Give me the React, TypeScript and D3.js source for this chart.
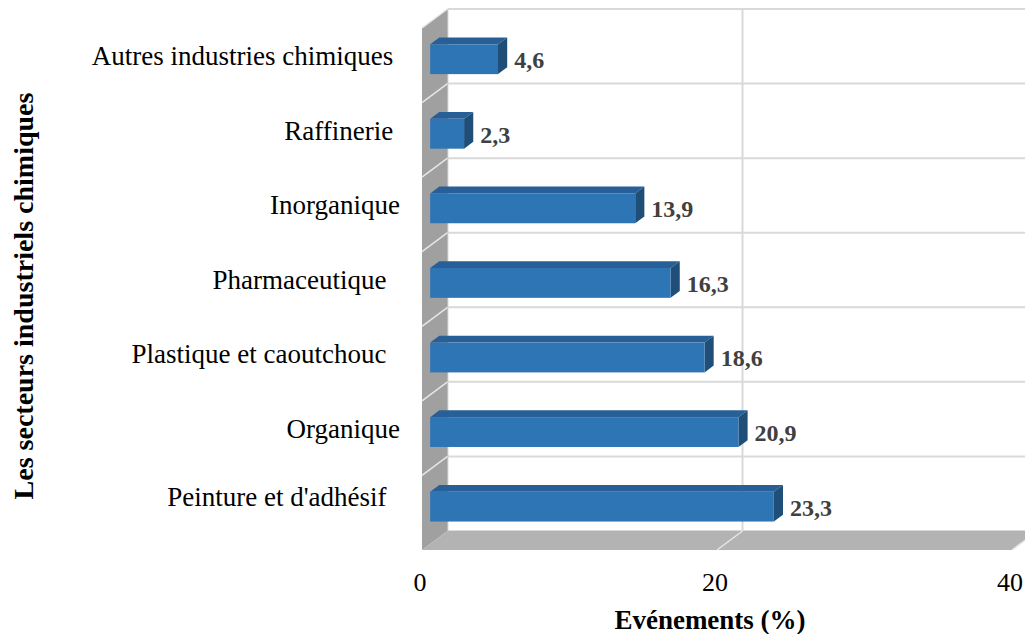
import React, { useRef, useEffect } from 'react'
import * as d3 from 'd3'

// categories from top to bottom, as in the reference
const categories = [
  'Autres industries chimiques ',
  'Raffinerie ',
  'Inorganique',
  'Pharmaceutique  ',
  'Plastique et caoutchouc  ',
  'Organique',
  "Peinture et d'adhésif  ",
]
const values = [4.6, 2.3, 13.9, 16.3, 18.6, 20.9, 23.3]
const xTicks = [0, 20, 40]

const xTitle = 'Evénements (%)'
const yTitle = 'Les secteurs industriels chimiques'

export default function App() {
  const svgRef = useRef<SVGSVGElement>(null)

  useEffect(() => {
    if (!svgRef.current) return
    const svg = d3.select(svgRef.current)
    svg.selectAll('*').remove()

    const font = '"Liberation Serif", "Times New Roman", serif'
    const width = 1025
    const height = 634

    // front plane of the 3D box
    const x = d3.scaleLinear().domain([0, 40]).range([422, 1012])
    // depth offset of the back plane
    const DX = 25.5
    const DY = 19
    // bands measured on the back wall
    const y = d3.scaleBand<string>().domain(categories).range([9, 531])
    const bw = y.bandwidth()

    const gridColor = '#d9d9d9'

    // back wall gridlines
    const back = svg.append('g')
    const bounds = d3.range(categories.length + 1).map(i => 9 + i * bw)
    back.selectAll('line.h')
      .data(bounds)
      .enter().append('line')
      .attr('x1', x(0) + DX).attr('x2', x(40) + DX)
      .attr('y1', d => d).attr('y2', d => d)
      .attr('stroke', gridColor).attr('stroke-width', 2)
    back.selectAll('line.v')
      .data(xTicks)
      .enter().append('line')
      .attr('x1', d => x(d) + DX).attr('x2', d => x(d) + DX)
      .attr('y1', 9).attr('y2', 531)
      .attr('stroke', gridColor).attr('stroke-width', 2)

    // left wall
    const x0 = x(0)
    svg.append('polygon')
      .attr('points', [[x0, 9 + DY], [x0 + DX, 9], [x0 + DX, 531], [x0, 531 + DY]].map(p => p.join(',')).join(' '))
      .attr('fill', '#a0a0a0')
    svg.append('g').selectAll('line')
      .data(bounds.slice(0, -1))
      .enter().append('line')
      .attr('x1', x0).attr('y1', d => d + DY)
      .attr('x2', x0 + DX).attr('y2', d => d)
      .attr('stroke', '#e6e6e6').attr('stroke-width', 1.5)

    // floor
    svg.append('polygon')
      .attr('points', [[x0, 531 + DY], [x(40), 531 + DY], [x(40) + DX, 531], [x0 + DX, 531]].map(p => p.join(',')).join(' '))
      .attr('fill', '#b3b3b3')
    svg.append('g').selectAll('line')
      .data(xTicks.slice(1))
      .enter().append('line')
      .attr('x1', d => x(d)).attr('y1', 531 + DY)
      .attr('x2', d => x(d) + DX).attr('y2', 531)
      .attr('stroke', '#e6e6e6').attr('stroke-width', 1.5)

    // bars
    const d1 = 0.32
    const d2 = 0.68
    const barH = bw * 0.4
    const ddx = (d2 - d1) * DX
    const ddy = (d2 - d1) * DY
    const bars = categories.map((c, i) => {
      const cy = (y(c) as number) + bw / 2 + DY * (1 - d1)
      const xl = x(0) + DX * d1
      const xr = x(values[i]) + DX * d1
      return { c, v: values[i], cy, xl, xr, yt: cy - barH / 2, yb: cy + barH / 2, last: i === categories.length - 1 }
    })
    const pts = (arr: number[][]) => arr.map(p => p.join(',')).join(' ')
    const gBars = svg.append('g')
    bars.forEach(b => {
      gBars.append('polygon')
        .attr('points', pts([[b.xl, b.yt], [b.xr, b.yt], [b.xr + ddx, b.yt - ddy], [b.xl + ddx, b.yt - ddy]]))
        .attr('fill', '#285f96')
      gBars.append('polygon')
        .attr('points', pts([[b.xr, b.yt], [b.xr + ddx, b.yt - ddy], [b.xr + ddx, b.yb - ddy], [b.xr, b.yb]]))
        .attr('fill', '#1f4e79')
      gBars.append('rect')
        .attr('x', b.xl).attr('y', b.yt)
        .attr('width', b.xr - b.xl).attr('height', barH)
        .attr('fill', '#2e75b6')
    })

    // value labels
    svg.append('g').selectAll('text')
      .data(bars)
      .enter().append('text')
      .attr('x', d => d.xr + ddx + 7)
      .attr('y', d => d.cy + 9)
      .attr('font-family', font)
      .attr('font-size', 24)
      .attr('font-weight', 'bold')
      .attr('fill', '#404040')
      .text(d => String(d.v).replace('.', ','))

    // category labels (last one sits a bit higher, it wraps onto a hidden second line)
    svg.append('g').selectAll('text')
      .data(bars)
      .enter().append('text')
      .attr('x', 400)
      .attr('y', d => d.cy + (d.last ? -1 : 6))
      .attr('text-anchor', 'end')
      .attr('xml:space', 'preserve')
      .style('white-space', 'pre')
      .attr('font-family', font)
      .attr('font-size', 27)
      .attr('fill', '#000')
      .text(d => d.c)

    // x tick labels
    svg.append('g').selectAll('text')
      .data(xTicks)
      .enter().append('text')
      .attr('x', d => x(d) - 2)
      .attr('y', 591)
      .attr('text-anchor', 'middle')
      .attr('font-family', font)
      .attr('font-size', 26)
      .attr('fill', '#000')
      .text(d => String(d))

    // axis titles
    svg.append('text')
      .attr('x', 710).attr('y', 629)
      .attr('text-anchor', 'middle')
      .attr('font-family', font)
      .attr('font-size', 27)
      .attr('font-weight', 'bold')
      .text(xTitle)

    svg.append('text')
      .attr('transform', 'translate(33,296) rotate(-90)')
      .attr('text-anchor', 'middle')
      .attr('font-family', font)
      .attr('font-size', 28)
      .attr('font-weight', 'bold')
      .text(yTitle)

    svg.attr('width', width).attr('height', height)
  }, [])

  return (
    <div style={{ position: 'absolute', left: 0, top: 0, background: '#fff' }}>
      <svg ref={svgRef} width={1025} height={634} style={{ display: 'block' }} />
    </div>
  )
}
